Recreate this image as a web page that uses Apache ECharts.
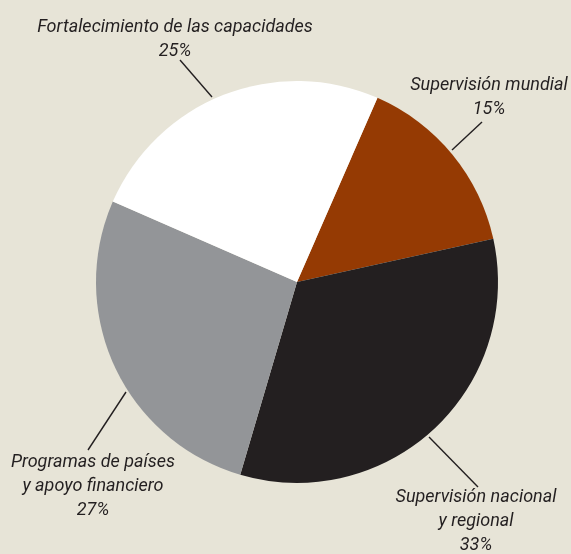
<!DOCTYPE html>
<html>
<head>
<meta charset="utf-8">
<script src="https://cdn.jsdelivr.net/npm/echarts@6/dist/echarts.min.js"></script>
<style>
  html, body { margin: 0; padding: 0; background: #e7e4d7; }
  #chart { width: 571px; height: 554px; }
</style>
</head>
<body>
<div id="chart"></div>
<script>
// data, clockwise from the brown slice
const names = ['Supervisión mundial', 'Supervisión nacional\ny regional', 'Programas de países\ny apoyo financiero', 'Fortalecimiento de las capacidades'];
const shares = [15, 33, 27, 25];
const colors = ['#953a03', '#231f20', '#939598', '#ffffff'];

// where each label sits and how its leader line runs (page pixels)
const labelSpots = [
    { x: 489, y: 97,  line: [[452, 150], [482, 122]] },
    { x: 476, y: 521, line: [[429, 437], [478, 487]] },
    { x: 93,  y: 486, line: [[126, 392], [88, 450]] },
    { x: 175, y: 39,  line: [[212, 97], [180, 60]] }
];

let element = document.getElementById('chart');
let chart = echarts.init(element);

let option = {
    backgroundColor: '#e7e4d7',
    animation: false,
    series: [{
        type: 'pie',
        center: [297, 282],
        radius: 201,
        startAngle: 66.4,
        clockwise: true,
        avoidLabelOverlap: false,
        emphasis: { disabled: true },
        itemStyle: { borderWidth: 0 },
        label: {
            show: true,
            formatter: '{b}\n{c}%',
            fontFamily: 'Roboto, "Liberation Sans", sans-serif',
            fontStyle: 'italic',
            fontSize: 18,
            lineHeight: 24,
            color: '#231f20',
            align: 'center'
        },
        labelLine: {
            show: true,
            lineStyle: { color: '#231f20', width: 1.4 }
        },
        labelLayout: function (params) {
            const s = labelSpots[params.dataIndex];
            return {
                x: s.x,
                y: s.y,
                align: 'center',
                verticalAlign: 'middle',
                labelLinePoints: [s.line[0], s.line[1], s.line[1]]
            };
        },
        data: names.map(function (n, i) {
            return { name: n, value: shares[i], itemStyle: { color: colors[i] } };
        })
    }]
};

chart.setOption(option);
</script>
</body>
</html>
